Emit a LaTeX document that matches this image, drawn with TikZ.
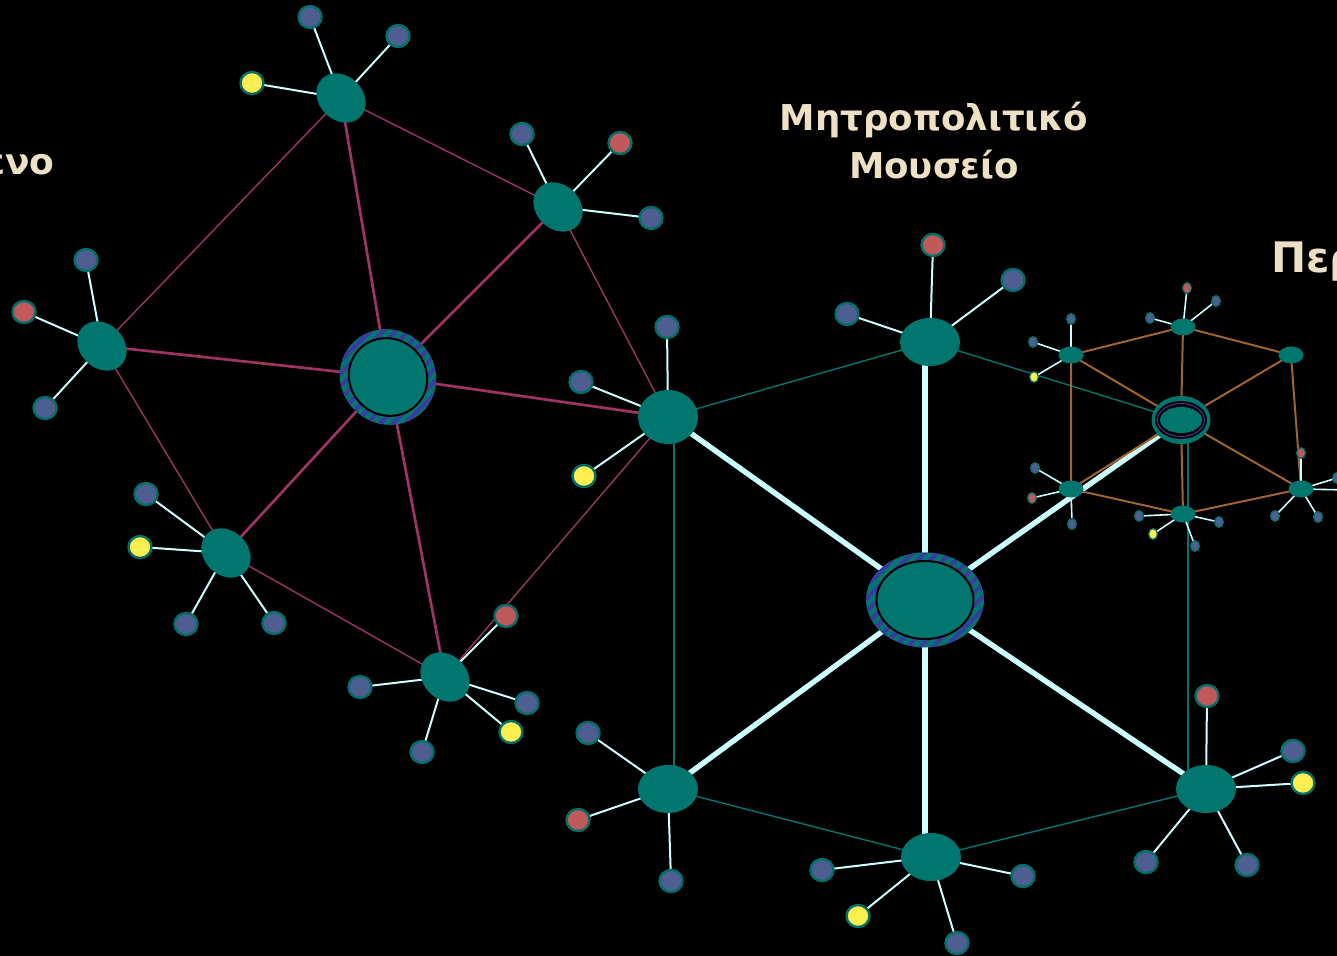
\documentclass[tikz,border=0pt]{standalone}
\usepackage{fontspec}
\newfontfamily\musfont{DejaVu Sans}
\usetikzlibrary{shapes.geometric,patterns.meta}
\pgfdeclarelayer{backdrop}
\pgfdeclarelayer{links}
\pgfsetlayers{backdrop,links,main}

\begin{document}
\begin{tikzpicture}[x=0.5pt,y=-0.5pt,
    blob/.style={shape=ellipse,fill=musnet_teal,inner sep=0pt},
    satnode/.style={blob,minimum width=27pt,minimum height=22pt,rotate=-45},
    ringnode/.style={blob,minimum width=30pt,minimum height=24pt},
    tinynode/.style={blob,minimum width=12.5pt,minimum height=8.5pt},
    striped/.style={postaction={pattern={Lines[angle=45,distance=4.5pt,line width=2pt]},pattern color=musnet_stripe}},
    leaf/.style={shape=ellipse,draw=musnet_rim,line width=1.2pt,inner sep=0pt,minimum width=11.5pt,minimum height=11pt},
    tinyleaf/.style={shape=ellipse,draw=musnet_rim,line width=0.6pt,inner sep=0pt,minimum width=4.4pt,minimum height=5.4pt},
    hubline/.style={draw=musnet_magenta,line width=1.35pt},
    ringline/.style={draw=musnet_magenta,line width=0.7pt},
    spoke/.style={draw=musnet_white,line width=2.7pt},
    tealring/.style={draw=musnet_teal,line width=0.7pt},
    cubeline/.style={draw=musnet_brown,line width=1pt},
    leafline/.style={draw=musnet_white,line width=1pt},
    tinyline/.style={draw=musnet_white,line width=0.8pt},
    caption/.style={text=musnet_text,inner sep=0pt}]
    \definecolor{musnet_teal}{RGB}{0,118,110}
    \definecolor{musnet_rim}{RGB}{0,112,104}
    \definecolor{musnet_magenta}{RGB}{158,51,102}
    \definecolor{musnet_white}{RGB}{204,255,255}
    \definecolor{musnet_brown}{RGB}{160,100,44}
    \definecolor{musnet_stripe}{RGB}{58,58,160}
    \definecolor{musnet_blue}{RGB}{78,94,144}
    \definecolor{musnet_pink}{RGB}{192,90,90}
    \definecolor{musnet_yellow}{RGB}{255,238,80}
    \definecolor{musnet_text}{RGB}{238,224,196}
    \useasboundingbox (0,0) rectangle (1337,956);
    \begin{pgfonlayer}{backdrop}
    \fill[black] (0,0) rectangle (1337,956);
    \end{pgfonlayer}
    \clip (0,0) rectangle (1337,956);

    % left network
    \node[blob,striped,minimum width=49pt,minimum height=47pt,rotate=-40] (L0) at (388,377) {};
    \node[blob,draw=black,line width=1pt,minimum width=40pt,minimum height=38pt,rotate=-40] (L0in) at (L0) {};
    \node[satnode] (L1) at (341,98) {};
    \node[satnode] (L2) at (558,207) {};
    \node[satnode] (L3) at (102,346) {};
    \node[satnode] (L4) at (226,553) {};
    \node[satnode] (L5) at (445,677) {};

    % right network
    \node[blob,striped,minimum width=59pt,minimum height=47.5pt] (R0) at (925,600) {};
    \node[blob,draw=black,line width=1pt,minimum width=48.5pt,minimum height=39pt] (R0in) at (R0) {};
    \node[ringnode] (R1) at (930,342) {};
    \node[blob,minimum width=30pt,minimum height=27pt] (R2) at (668,417) {};
    \node[ringnode] (R3) at (668,789) {};
    \node[ringnode] (R4) at (931,857) {};
    \node[ringnode] (R5) at (1206,789) {};

    % small network
    \node[blob,minimum width=29.5pt,minimum height=24pt] (S0) at (1181,420) {};
    \node[shape=ellipse,fill=black,inner sep=0pt,minimum width=26pt,minimum height=19pt] (S0a) at (S0) {};
    \node[shape=ellipse,draw=musnet_stripe,line width=0.5pt,inner sep=0pt,minimum width=23.5pt,minimum height=16.5pt] (S0b) at (S0) {};
    \node[blob,minimum width=21pt,minimum height=13pt] (S0c) at (S0) {};
    \node[tinynode] (S1) at (1183,327) {};
    \node[tinynode] (S2) at (1071,355) {};
    \node[tinynode] (S3) at (1291,355) {};
    \node[tinynode] (S4) at (1071,489) {};
    \node[tinynode] (S5) at (1183,514) {};
    \node[tinynode] (S6) at (1301,489) {};
    \coordinate (S0tail) at ([xshift=3.5pt]S0.center);

    \begin{pgfonlayer}{links}
    \foreach \to in {L1,L2,L3,L4,L5,R2}
        \draw[hubline] (L0.center) -- (\to.center);
    \draw[ringline] (L1.center) -- (L2.center) -- (R2.center) -- (L5.center) -- (L4.center) -- (L3.center) -- (L1.center);
    \foreach \to in {R2,R3,R5,S0}
        \draw[spoke] (R0.center) -- (\to.center);
    \draw[spoke] (R0.center) -- (R0.center |- R1.center);
    \draw[spoke] (R0.center) -- (R0.center |- R4.center);
    \draw[tealring] (R1.center) -- (R2.center);
    \draw[tealring] ([xshift=3pt]R2.center) -- ([xshift=3pt]R3.center);
    \draw[tealring] (R3.center) -- (R4.center) -- (R5.center);
    \draw[tealring] (S0tail) -- (S0tail |- R5.center);
    \draw[tealring] (S0.center) -- (R1.center);
    \foreach \to in {S1,S2,S3,S4,S5,S6}
        \draw[cubeline] (S0.center) -- (\to.center);
    \draw[cubeline] (S4.center) -- (S2.center) -- (S1.center) -- (S3.center) -- (S6.center) -- (S5.center) -- (S4.center);
    \end{pgfonlayer}

    % leaves
    \foreach \owner/\px/\py/\tint [count=\k] in {
        L1/310/17/musnet_blue, L1/398/36/musnet_blue, L1/252/83/musnet_yellow,
        L2/522/134/musnet_blue, L2/620/143/musnet_pink, L2/651/218/musnet_blue,
        L3/86/260/musnet_blue, L3/24/312/musnet_pink, L3/45/408/musnet_blue,
        L4/146/494/musnet_blue, L4/140/547/musnet_yellow, L4/186/624/musnet_blue, L4/274/623/musnet_blue,
        L5/506/616/musnet_pink, L5/360/687/musnet_blue, L5/527/703/musnet_blue, L5/511/732/musnet_yellow, L5/422/752/musnet_blue,
        R2/667/327/musnet_blue, R2/581/382/musnet_blue, R2/584/476/musnet_yellow,
        R1/933/245/musnet_pink, R1/1013/280/musnet_blue, R1/847/314/musnet_blue,
        R3/588/733/musnet_blue, R3/578/820/musnet_pink, R3/671/881/musnet_blue,
        R4/822/870/musnet_blue, R4/858/916/musnet_yellow, R4/957/943/musnet_blue, R4/1023/876/musnet_blue,
        R5/1207/696/musnet_pink, R5/1293/751/musnet_blue, R5/1303/783/musnet_yellow, R5/1146/862/musnet_blue, R5/1247/865/musnet_blue} {
        \node[leaf,fill=\tint] (leaf\k) at (\px,\py) {};
        \begin{pgfonlayer}{links}
        \draw[leafline] (\owner.center) -- (leaf\k.center);
        \end{pgfonlayer}
    }
    \foreach \owner/\px/\py/\tint [count=\k] in {
        S1/1187/288/musnet_pink, S1/1216/301/musnet_blue, S1/1150/318/musnet_blue,
        S2/1071/319/musnet_blue, S2/1033/342/musnet_blue, S2/1034/377/musnet_yellow,
        S4/1035/468/musnet_blue, S4/1032/498/musnet_pink, S4/1072/524/musnet_blue,
        S5/1139/516/musnet_blue, S5/1153/534/musnet_yellow, S5/1195/546/musnet_blue, S5/1219/522/musnet_blue,
        S6/1301/453/musnet_pink, S6/1337/478/musnet_blue, S6/1348/490/musnet_blue, S6/1275/516/musnet_blue, S6/1318/517/musnet_blue} {
        \node[tinyleaf,fill=\tint] (tiny\k) at (\px,\py) {};
        \begin{pgfonlayer}{links}
        \draw[tinyline] (\owner.center) -- (tiny\k.center);
        \end{pgfonlayer}
    }

    % captions
    \node[caption,font=\musfont\bfseries\fontsize{17.8}{24}\selectfont,align=center] (metro) at (934,141) {Μητροπολιτικό\\Μουσείο};
    \node[caption,font=\musfont\bfseries\fontsize{21}{25}\selectfont,anchor=base west] (peri) at (1271,273) {Περ};
    \node[caption,font=\musfont\bfseries\fontsize{18}{22}\selectfont,anchor=base east] (left) at (55,175) {ενο};
\end{tikzpicture}
\end{document}
